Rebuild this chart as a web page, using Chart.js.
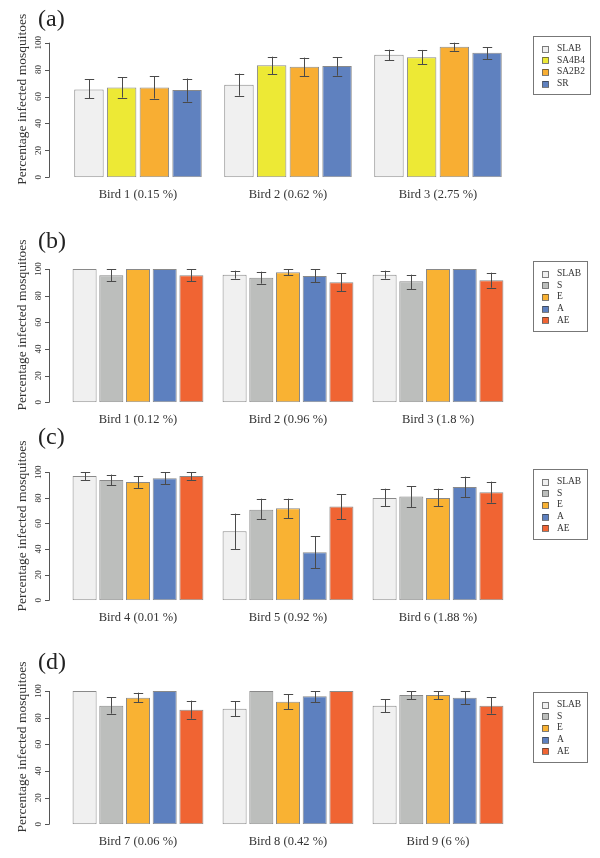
<!DOCTYPE html>
<html>
<head>
<meta charset="utf-8">
<script src="https://cdn.jsdelivr.net/npm/chart.js@4.4.0/dist/chart.umd.min.js"></script>
<style>
  body { margin: 0; background: #fff; }
  #page { position: relative; width: 600px; height: 858px; overflow: hidden; }
  canvas { position: absolute; left: 0; }
</style>
</head>
<body>
<div id="page">
  <canvas id="chartA"></canvas>
  <canvas id="chartB"></canvas>
  <canvas id="chartC"></canvas>
  <canvas id="chartD"></canvas>
</div>
<script>
// ---- data (percentage infected mosquitoes) ----
const yTicks = [0, 20, 40, 60, 80, 100];

// (a)
const birdsA = ['Bird 1 (0.15 %)', 'Bird 2 (0.62 %)', 'Bird 3 (2.75 %)'];
const strainsA = ['SLAB', 'SA4B4', 'SA2B2', 'SR'];
const valuesA = [
    [65.3, 68.8, 91.1],
    [66.8, 83.2, 89.1],
    [66.8, 82.2, 97.0],
    [64.9, 82.7, 92.6]
];
const lowA = [
    [58.6, 60.6, 86.9],
    [59.2, 76.7, 83.9],
    [58.5, 75.2, 94.0],
    [56.2, 75.5, 87.6]
];
const highA = [
    [72.8, 77.0, 94.8],
    [74.3, 89.6, 94.6],
    [75.0, 88.9, 100],
    [73.4, 89.1, 96.8]
];

// (b)
const birdsB = ['Bird 1 (0.12 %)', 'Bird 2 (0.96 %)', 'Bird 3 (1.8 %)'];
const strainsB = ['SLAB', 'S', 'E', 'A', 'AE'];
const valuesB = [
    [100, 95.75, 95.75],
    [95.25, 93.5, 90.75],
    [100, 97.5, 100],
    [100, 94.75, 100],
    [95.25, 90, 91.5]
];
const lowB = [
    [null, 92.75, 92.75],
    [90.75, 89, 84.75],
    [null, 95.25, null],
    [null, 90, null],
    [90.75, 83.25, 86]
];
const highB = [
    [null, 98.75, 98.75],
    [99.75, 98, 95.75],
    [null, 99.75, null],
    [null, 99.75, null],
    [99.75, 96.75, 97.25]
];

// (c)
const birdsC = ['Bird 4 (0.01 %)', 'Bird 5 (0.92 %)', 'Bird 6 (1.88 %)'];
const strainsC = ['SLAB', 'S', 'E', 'A', 'AE'];
const valuesC = [
    [97.1, 53.9, 79.9],
    [94.0, 70.8, 81.0],
    [92.4, 71.9, 79.9],
    [95.3, 37.5, 88.5],
    [97.1, 73.2, 84.4]
];
const lowC = [
    [94.0, 40.1, 73.4],
    [89.8, 63.3, 72.9],
    [87.8, 64.3, 73.4],
    [90.6, 25.0, 80.5],
    [94.0, 63.3, 76.3]
];
const highC = [
    [100, 67.7, 87.2],
    [98.2, 79.4, 89.0],
    [96.9, 79.4, 87.2],
    [100, 50.0, 96.6],
    [100, 82.8, 92.7]
];

// (d)
const birdsD = ['Bird 7 (0.06 %)', 'Bird 8 (0.42 %)', 'Bird 9 (6 %)'];
const strainsD = ['SLAB', 'S', 'E', 'A', 'AE'];
const valuesD = [
    [100, 86.75, 89],
    [89, 100, 97],
    [95, 92, 97],
    [100, 96, 95],
    [86, 100, 89]
];
const lowD = [
    [null, 81, 84.25],
    [83, null, 93.75],
    [91.5, 86.25, 93.75],
    [null, 91.75, 90],
    [79.25, null, 83]
];
const highD = [
    [null, 92.25, 93.75],
    [95.25, null, 100],
    [98.75, 97.5, 100],
    [null, 100, 100],
    [92.75, null, 95.25]
];

// ---- styles ----
const colours = {
    'SLAB': '#f0f0f0',
    'SA4B4': '#ede935',
    'SA2B2': '#f8ae33',
    'SR': '#5f81bf',
    'S': '#bcbebc',
    'E': '#f9b233',
    'A': '#5d80bf',
    'AE': '#f06433'
};
const serif = '"Liberation Serif", "DejaVu Serif", serif';
const textColour = '#333';
const yMax = 116;
const xAxisH = 25; // fixed height of the category axis

// layout per panel (page pixels)
const panels = [
    { id: 'chartA', tag: '(a)', top: 0,   height: 205, zero: 177.3, per100: 134.6, tagY: 20, legendTop: 36,
      birds: birdsA, strains: strainsA, values: valuesA, low: lowA, high: highA },
    { id: 'chartB', tag: '(b)', top: 205, height: 225, zero: 402.3, per100: 133.3, tagY: 37, legendTop: 56,
      birds: birdsB, strains: strainsB, values: valuesB, low: lowB, high: highB },
    { id: 'chartC', tag: '(c)', top: 420, height: 208, zero: 600.3, per100: 128.0, tagY: 18, legendTop: 49,
      birds: birdsC, strains: strainsC, values: valuesC, low: lowC, high: highC },
    { id: 'chartD', tag: '(d)', top: 640, height: 212, zero: 824.3, per100: 133.3, tagY: 23, legendTop: 52,
      birds: birdsD, strains: strainsD, values: valuesD, low: lowD, high: highD }
];

// error bars, drawn from the scale
const errorBars = {
    id: 'errorBars',
    afterDatasetsDraw(chart, args, opts) {
        const ctx = chart.ctx;
        const y = chart.scales.y;
        ctx.save();
        ctx.strokeStyle = '#4a4a4a';
        ctx.lineWidth = 1;
        chart.data.datasets.forEach((ds, i) => {
            const meta = chart.getDatasetMeta(i);
            meta.data.forEach((bar, j) => {
                const lo = ds.low[j], hi = ds.high[j];
                if (lo == null || hi == null) return;
                const x = Math.round(bar.x) + 0.5;
                const y1 = y.getPixelForValue(lo);
                const y2 = y.getPixelForValue(hi);
                const cap = 4.7;
                ctx.beginPath();
                ctx.moveTo(x, y1); ctx.lineTo(x, y2);
                ctx.moveTo(x - cap, Math.round(y1) + 0.5); ctx.lineTo(x + cap, Math.round(y1) + 0.5);
                ctx.moveTo(x - cap, Math.round(y2) + 0.5); ctx.lineTo(x + cap, Math.round(y2) + 0.5);
                ctx.stroke();
            });
        });
        ctx.restore();
    }
};

// R-style y axis, title, panel tag and boxed legend
const decorations = {
    id: 'decorations',
    afterDraw(chart, args, opts) {
        const ctx = chart.ctx;
        const y = chart.scales.y;
        const area = chart.chartArea;
        const axisX = Math.round(area.left - 14) + 0.5;
        ctx.save();
        ctx.strokeStyle = '#555';
        ctx.fillStyle = textColour;
        ctx.lineWidth = 1;
        ctx.beginPath();
        ctx.moveTo(axisX, y.getPixelForValue(yTicks[0]));
        ctx.lineTo(axisX, y.getPixelForValue(yTicks[yTicks.length - 1]));
        yTicks.forEach(t => {
            const py = Math.round(y.getPixelForValue(t)) + 0.5;
            ctx.moveTo(axisX, py);
            ctx.lineTo(axisX - 4.5, py);
        });
        ctx.stroke();

        ctx.font = '9px ' + serif;
        ctx.textAlign = 'center';
        ctx.textBaseline = 'middle';
        yTicks.forEach(t => {
            ctx.save();
            ctx.translate(axisX - 10.5, y.getPixelForValue(t));
            ctx.rotate(-Math.PI / 2);
            ctx.fillText(String(t), 0, 0);
            ctx.restore();
        });

        // axis title
        ctx.save();
        ctx.font = '13.5px ' + serif;
        ctx.translate(22, (area.top + area.bottom) / 2);
        ctx.rotate(-Math.PI / 2);
        ctx.fillText('Percentage infected mosquitoes', 0, 0);
        ctx.restore();

        // panel tag
        ctx.font = '24px ' + serif;
        ctx.textAlign = 'left';
        ctx.fillStyle = '#222';
        ctx.fillText(opts.tag, 38, opts.tagY);

        // legend
        ctx.font = '9.5px ' + serif;
        const labels = chart.data.datasets.map(d => d.label);
        const maxW = Math.max(...labels.map(l => ctx.measureText(l).width));
        const bx = 533.5, by = Math.round(opts.legendTop) + 0.5;
        const rowH = 11.7;
        const bw = Math.round(23.4 + maxW + 6);
        const bh = Math.round(12 + (labels.length - 1) * rowH + 11);
        ctx.strokeStyle = '#777';
        ctx.strokeRect(bx, by, bw, bh);
        chart.data.datasets.forEach((d, i) => {
            const cy = by + 12 + i * rowH;
            ctx.fillStyle = d.backgroundColor;
            ctx.fillRect(bx + 9, Math.round(cy - 3), 6, 6);
            ctx.strokeStyle = 'rgba(40,40,40,0.6)';
            ctx.strokeRect(bx + 9, Math.round(cy - 3) + 0.5, 6, 6);
            ctx.fillStyle = textColour;
            ctx.fillText(d.label, bx + 23.4, cy);
        });
        ctx.restore();
    }
};

panels.forEach(p => {
    const canvas = document.getElementById(p.id);
    canvas.width = 600;
    canvas.height = p.height;
    canvas.style.top = p.top + 'px';
    const chartTop = p.zero - p.per100 * yMax / 100;
    const padTop = chartTop - p.top;
    const padBottom = p.height - (p.zero - p.top) - xAxisH;

    new Chart(canvas.getContext('2d'), {
        type: 'bar',
        data: {
            labels: p.birds,
            datasets: p.strains.map((s, i) => ({
                label: s,
                data: p.values[i],
                low: p.low[i],
                high: p.high[i],
                backgroundColor: colours[s],
                borderColor: 'rgba(40,40,40,0.55)',
                borderWidth: 1,
                borderSkipped: false,
                categoryPercentage: p.strains.length === 4 ? 0.872 : 0.89,
                barPercentage: 0.9
            }))
        },
        options: {
            responsive: false,
            animation: false,
            devicePixelRatio: 1,
            layout: { padding: { left: 63, right: 87, top: padTop, bottom: padBottom } },
            scales: {
                x: {
                    grid: { display: false, drawTicks: false },
                    border: { display: false },
                    ticks: { padding: 10, color: textColour, font: { family: serif, size: 12.5 } },
                    afterFit: scale => { scale.height = xAxisH; }
                },
                y: { display: false, min: 0, max: yMax }
            },
            plugins: {
                legend: { display: false },
                tooltip: { enabled: false },
                decorations: { tag: p.tag, tagY: p.tagY, legendTop: p.legendTop }
            }
        },
        plugins: [errorBars, decorations]
    });
});
</script>
</body>
</html>
